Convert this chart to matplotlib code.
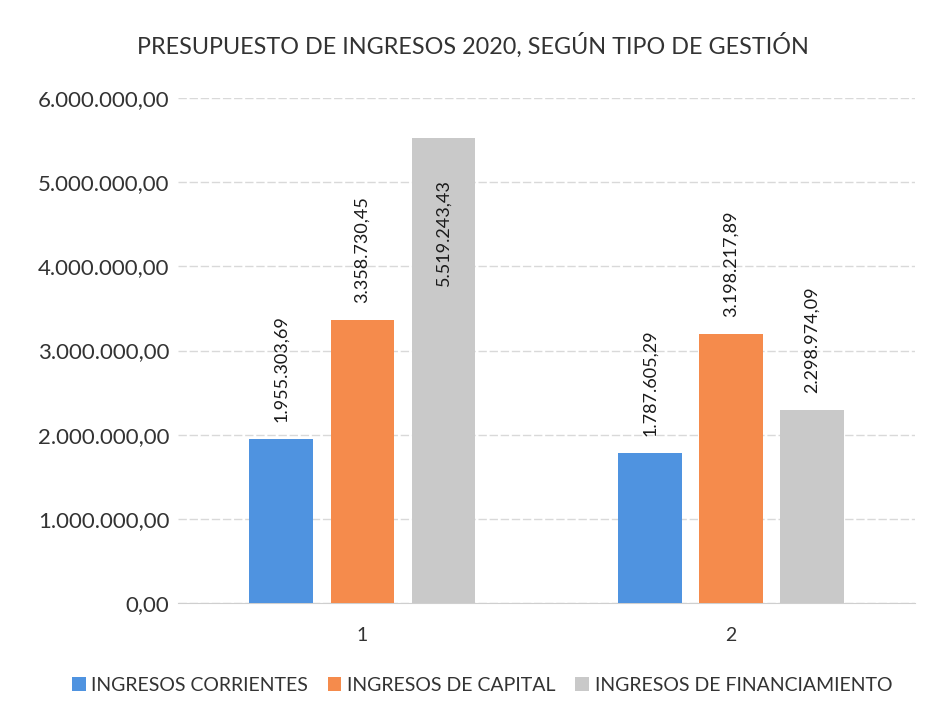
import numpy as np
import matplotlib
matplotlib.use("Agg")
import matplotlib.pyplot as plt

# === Data ===
categories = ["1", "2"]
series_names = ["INGRESOS CORRIENTES", "INGRESOS DE CAPITAL", "INGRESOS DE FINANCIAMIENTO"]
corrientes = [1955303.69, 1787605.29]
capital = [3358730.45, 3198217.89]
financiamiento = [5519243.43, 2298974.09]
y_ticks = [0, 1000000, 2000000, 3000000, 4000000, 5000000, 6000000]

colors = ["#4f93e0", "#f58b4c", "#c9c9c9"]


def es_format(v):
    # 1234567.89 -> 1.234.567,89
    s = f"{v:,.2f}"
    return s.replace(",", "X").replace(".", ",").replace("X", ".")


plt.rcParams['font.family'] = ['Lato', 'DejaVu Sans']

fig = plt.figure(figsize=(9.36, 7.19), dpi=100)
ax = fig.add_axes([0.19, 0.161, 0.788, 0.703])

x = np.arange(1, len(categories) + 1)
width = 0.172
step = 0.22
ymax = 6000000

for i, (vals, name) in enumerate(zip([corrientes, capital, financiamiento], series_names)):
    pos = x + (i - 1) * step
    ax.bar(pos, vals, width, color=colors[i], label=name, zorder=3)
    for px, v in zip(pos, vals):
        txt = es_format(v)
        if v + 1650000 > ymax:
            ax.text(px, v - 480000, txt, rotation=90, ha="center", va="top",
                    fontsize=13, color="#1a1a1a", zorder=4)
        else:
            ax.text(px, v + 200000, txt, rotation=90, ha="center", va="bottom",
                    fontsize=13, color="#1a1a1a", zorder=4)

ax.set_xlim(0.5, 2.5)
ax.set_ylim(0, ymax)
ax.set_xticks(x)
ax.set_xticklabels(categories, fontsize=14, color="#333333")
ax.set_yticks(y_ticks)
ax.set_yticklabels([es_format(t) for t in y_ticks], fontsize=16, color="#333333")
ax.tick_params(axis="y", length=0, pad=6)
ax.tick_params(axis="x", length=0, pad=17)
ax.grid(axis="y", color="#d9d9d9", linewidth=1, linestyle=(0, (6, 2)), zorder=0)
for side in ["top", "right", "left"]:
    ax.spines[side].set_visible(False)
ax.spines["bottom"].set_color("#cfcfcf")

fig.suptitle("PRESUPUESTO DE INGRESOS 2020, SEGÚN TIPO DE GESTIÓN",
             x=0.505, y=0.955, fontsize=16.8, color="#333333")

fig.legend(loc="center", bbox_to_anchor=(0.515, 0.047), ncol=3, frameon=False,
           fontsize=14, handlelength=0.7, handleheight=0.7, handletextpad=0.3,
           columnspacing=1.0, labelcolor="#333333")

fig.savefig("out.png", dpi=100, facecolor="white")
